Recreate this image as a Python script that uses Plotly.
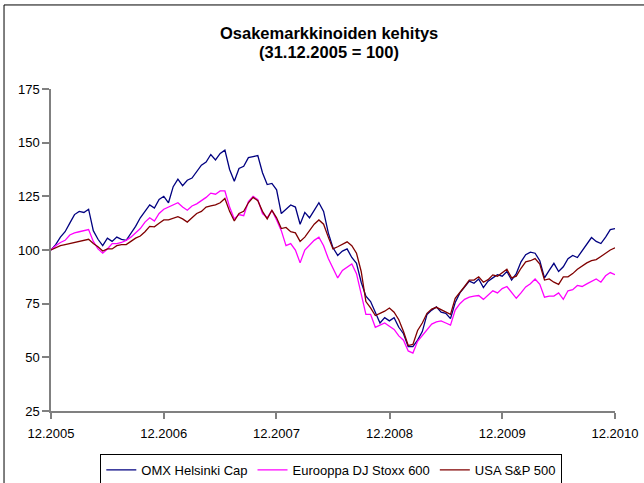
import pandas as pd
import plotly.graph_objects as go

# Half-monthly samples from 31.12.2005 to 31.12.2010 (121 points), index 31.12.2005 = 100
dates = pd.date_range("2005-12-31", "2010-12-31", periods=121)

omx_helsinki = [
    100, 102.5, 106, 108.5, 112.5, 116.5, 118, 117.5, 119, 109,
    105, 102, 105.5, 104, 106, 105, 104.5, 107.5, 111, 115,
    118, 121, 119.5, 123.5, 125, 122, 129.5, 133, 130, 132.5,
    133.5, 136.5, 139.5, 141, 144.5, 142, 145, 146.5, 137.5, 132,
    138, 139, 143, 143.5, 144, 136, 130.5, 131, 128, 117,
    119, 121, 120, 112, 117.5, 115, 118.5, 122, 118, 108,
    101, 97.5, 99.5, 100.5, 96.5, 93.8, 85, 78.5, 76, 71,
    66, 68.5, 67, 68.5, 64, 61, 55, 55, 58, 62,
    70, 72, 73.5, 71, 70.5, 68, 75.5, 80, 83, 85.5,
    84.5, 86.5, 82.5, 85.5, 87, 88.5, 87.8, 90, 86, 89,
    94.5, 97.8, 99, 98.5, 95, 87, 90.5, 93.8, 90, 92.2,
    96, 97.5, 96.5, 99.5, 103, 105.8, 104, 103, 106, 109.5,
    110,
]

dj_stoxx_600 = [
    100, 102, 103.5, 104.5, 107, 108, 108.5, 109, 109.5, 104,
    100.5, 98.5, 100.5, 103, 103, 103.5, 104.5, 106, 108, 110,
    113, 115, 113.5, 117, 119, 120, 121, 122, 120, 118.5,
    120.5, 121.5, 123, 124.5, 126.5, 126, 127.5, 127.5, 120, 114.5,
    116.5, 116, 122.5, 125, 123.5, 117, 115, 118.5, 114, 109,
    102, 103, 100, 94, 100, 102.5, 104.5, 106, 102, 96,
    91.5, 87, 90.5, 92, 93.5, 89, 80, 70, 70, 64,
    65, 66, 64.5, 63, 60, 58, 53, 52, 57.5, 60,
    63, 65.5, 66.5, 67, 66, 65, 72, 75, 77, 78,
    78.5, 78.8, 77, 79, 81, 80, 82, 83, 80.5, 77.5,
    80, 82.8, 84.3, 86.5, 84, 78, 78.5, 78.5, 80, 77,
    81, 81.5, 83.5, 83, 84.2, 85.5, 86.5, 85, 88, 89.5,
    88.5,
]

sp_500 = [
    100, 101, 102, 102.5, 103, 103.5, 104, 104.5, 105, 103,
    101.5, 99.5, 100.5, 100.5, 102, 102.5, 102.5, 104, 105.5, 106.5,
    108.5, 111, 110.8, 112.5, 114, 114, 114.7, 115.5, 114.5, 113,
    115, 117, 118, 120, 120.5, 121, 122, 124, 118, 113.5,
    117, 118, 122, 124.5, 123, 118, 114.5, 118.5, 115, 110,
    110.5, 108.5, 108, 104, 106, 109, 112, 114, 112, 106,
    100.5, 101.5, 102.8, 103.8, 102, 98.5, 90, 76, 73, 69.5,
    70.5, 71.5, 73, 71, 67.5, 62, 55.5, 56, 62.5, 66,
    70.5, 72.5, 73.3, 72.3, 71, 70, 77.5, 80, 83, 86,
    86, 87.5, 85, 86.2, 88.4, 87.8, 89.5, 91, 87, 87.8,
    91.5, 94.5, 95, 96, 93.5, 86, 86.5, 85, 84, 87.5,
    87.5, 89, 91, 92.5, 94, 95, 95.5, 97, 98.5, 100,
    101,
]

series_names = ["OMX Helsinki Cap", "Eurooppa DJ Stoxx 600", "USA S&P 500"]
series_values = [omx_helsinki, dj_stoxx_600, sp_500]
series_colors = ["#000080", "#FF00FF", "#800000"]

title_lines = ["Osakemarkkinoiden kehitys", "(31.12.2005 = 100)"]
tick_dates = ["2005-12-31", "2006-12-31", "2007-12-31", "2008-12-31", "2009-12-31", "2010-12-31"]
tick_labels = ["12.2005", "12.2006", "12.2007", "12.2008", "12.2009", "12.2010"]
y_ticks = [25, 50, 75, 100, 125, 150, 175]

fig = go.Figure()
for name, vals, col in zip(series_names, series_values, series_colors):
    fig.add_trace(go.Scatter(
        x=dates, y=vals, name=name, mode="lines",
        line=dict(color=col, width=1.3),
    ))

FONT = "Liberation Sans, Arial, sans-serif"

fig.update_layout(
    width=644, height=483,
    margin=dict(l=51, r=29, t=89, b=72, autoexpand=False),
    paper_bgcolor="white", plot_bgcolor="white",
    font=dict(family=FONT, size=13, color="black"),
    showlegend=True,
    legend=dict(
        orientation="h",
        x=0.497, xanchor="center",
        y=-0.183, yanchor="middle",
        bordercolor="black", borderwidth=1,
        bgcolor="white",
        font=dict(family=FONT, size=13, color="black"),
        itemwidth=30,
    ),
)

# Two-line bold title
for txt, ypos in zip(title_lines, [1.174, 1.115]):
    fig.add_annotation(
        text="<b>" + txt + "</b>", xref="paper", yref="paper",
        x=0.493, y=ypos, xanchor="center", yanchor="middle",
        showarrow=False, font=dict(family=FONT, size=16.5, color="black"),
    )

fig.update_xaxes(
    range=["2005-12-31", "2010-12-31"],
    tickmode="array", tickvals=tick_dates, ticktext=tick_labels,
    ticks="outside", ticklen=6, tickcolor="#808080", tickwidth=1.5,
    ticklabelstandoff=4,
    showline=True, linecolor="#808080", linewidth=1.5,
    showgrid=False, zeroline=False,
    tickfont=dict(family=FONT, size=13, color="black"),
)
fig.update_yaxes(
    range=[25, 175],
    tickmode="array", tickvals=y_ticks,
    ticks="outside", ticklen=7, tickcolor="#808080", tickwidth=1.5,
    showline=True, linecolor="#808080", linewidth=1.5,
    showgrid=False, zeroline=False,
    tickfont=dict(family=FONT, size=13, color="black"),
)

# Chart-area frame: only left and top edges fall inside the picture
fig.add_shape(
    type="line", xref="paper", yref="paper",
    x0=-0.0833, x1=-0.0833, y0=-0.3, y1=1.261,
    line=dict(color="black", width=1), layer="below",
)
fig.add_shape(
    type="line", xref="paper", yref="paper",
    x0=-0.0833, x1=1.2, y0=1.261, y1=1.261,
    line=dict(color="black", width=1), layer="below",
)

fig.write_html(
    "out.html",
    config={"displayModeBar": False},
    post_script="document.body.style.margin='0';document.body.style.overflow='hidden';",
)
